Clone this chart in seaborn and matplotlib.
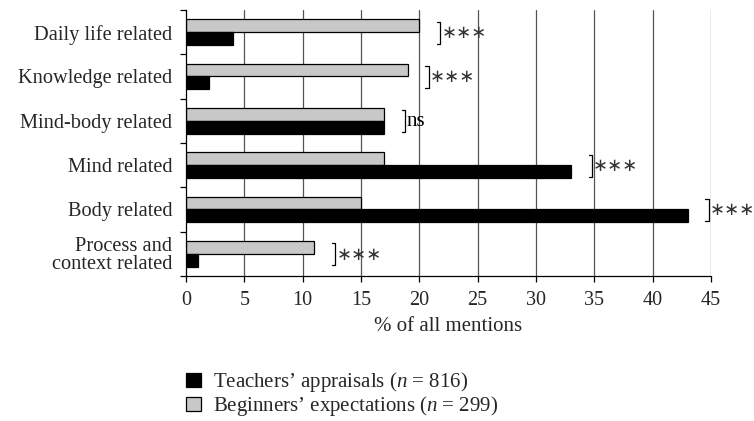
import matplotlib
matplotlib.use("Agg")
import matplotlib.pyplot as plt
import seaborn as sns
import pandas as pd
from matplotlib.patches import Patch
from matplotlib.ticker import FixedLocator

categories = ["Daily life related", "Knowledge related", "Mind-body related",
              "Mind related", "Body related", "Process and\ncontext related"]
beginners = [20, 19, 17, 17, 15, 11]
teachers = [4, 2, 17, 33, 43, 1]
signif = ["∗∗∗", "∗∗∗", "ns", "∗∗∗", "∗∗∗", "∗∗∗"]
series_names = ["Beginners’ expectations", "Teachers’ appraisals"]
legend_labels = ["Teachers’ appraisals ($n$ = 816)", "Beginners’ expectations ($n$ = 299)"]
xticks = [0, 5, 10, 15, 20, 25, 30, 35, 40, 45]

sns.set_style("white")
plt.rcParams["font.family"] = ["Liberation Serif", "DejaVu Serif"]
plt.rcParams["mathtext.fontset"] = "custom"
plt.rcParams["mathtext.it"] = "Liberation Serif:italic"
plt.rcParams["mathtext.rm"] = "Liberation Serif"

df = pd.DataFrame({
    "category": categories * 2,
    "value": beginners + teachers,
    "series": [series_names[0]] * len(categories) + [series_names[1]] * len(categories),
})

fig = plt.figure(figsize=(7.54, 4.21), dpi=100)
ax = fig.add_axes([186 / 754, 1 - 276 / 421, (711 - 186) / 754, (276 - 10) / 421])

colors = {series_names[0]: "#c8c8c8", series_names[1]: "#000000"}
sns.barplot(data=df, y="category", x="value", hue="series", orient="h",
            palette=colors, width=0.58, edgecolor="black", linewidth=0.9,
            ax=ax, legend=False, order=categories, hue_order=series_names)

ax.set_xlim(0, 45)
ax.set_ylim(len(categories) - 0.5, -0.5)
ax.xaxis.set_major_locator(FixedLocator(xticks))
ax.set_xticklabels([str(t) for t in xticks], fontsize=14.5)
for x in xticks[1:]:
    ax.axvline(x, color="#555555", lw=0.9, zorder=0)

ax.set_yticks(range(len(categories)))
ax.set_yticklabels(categories, fontsize=14.7, linespacing=0.88)
ax.tick_params(axis="y", which="major", length=0, pad=10)
ax.yaxis.set_minor_locator(FixedLocator([i - 0.5 for i in range(len(categories) + 1)]))
ax.tick_params(axis="y", which="minor", left=True, length=4, width=0.9, direction="out", color="black")
ax.tick_params(axis="x", which="major", bottom=True, length=4, width=0.9, direction="out", color="black", pad=7)

for s in ["top", "right"]:
    ax.spines[s].set_visible(False)
for s in ["left", "bottom"]:
    ax.spines[s].set_color("black")
    ax.spines[s].set_linewidth(0.9)

ax.set_xlabel("% of all mentions", fontsize=15, labelpad=5)
ax.set_ylabel("")

# significance brackets
for i, (b, t, s) in enumerate(zip(beginners, teachers, signif)):
    xb = max(b, t) + 1.5
    y0, y1 = i - 0.24, i + 0.26
    ax.plot([xb, xb + 0.3, xb + 0.3, xb], [y0, y0, y1, y1], color="black", lw=0.9, clip_on=False)
    ax.text(xb + 0.4, i + 0.02, s, fontsize=13 if s != "ns" else 15,
            va="center", ha="left", clip_on=False,
            family=["DejaVu Sans"] if s != "ns" else ["Liberation Serif"],
            color="#333333" if s != "ns" else "black")

handles = [Patch(facecolor="#000000", edgecolor="black", lw=0.9),
           Patch(facecolor="#c8c8c8", edgecolor="black", lw=0.9)]
fig.legend(handles, legend_labels, loc="upper left", bbox_to_anchor=(178 / 754, 1 - 362 / 421),
           frameon=False, fontsize=15, handlelength=0.7, handleheight=0.7,
           handletextpad=0.6, labelspacing=0.0, borderaxespad=0)

fig.savefig("out.png", dpi=100)
